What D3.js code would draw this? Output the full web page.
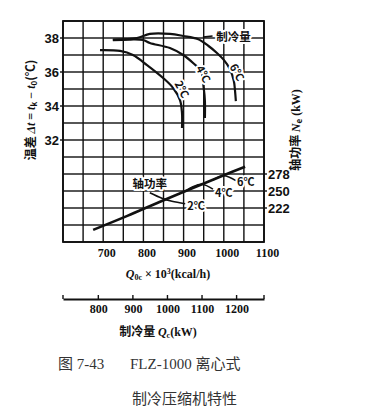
<!DOCTYPE html>
<html>
<head>
<meta charset="utf-8">
<script src="https://cdn.jsdelivr.net/npm/d3@7/dist/d3.min.js"></script>
<style>
body { margin:0; background:#fff; }
svg text { fill:#111; }
.num { font-family:"Liberation Sans", Arial, sans-serif; font-weight:bold; font-size:13px; }
.snum { font-family:"Liberation Serif", serif; font-weight:bold; font-size:12px; }
.lab { font-family:"Noto Sans CJK SC", sans-serif; font-weight:bold; font-size:11px; }
.halo { paint-order:stroke; stroke:#fff; stroke-width:4px; stroke-linejoin:round; }
</style>
</head>
<body>
<div id="chart"></div>
<script>
// FLZ-1000 centrifugal compressor characteristics
// cooling capacity curves: Q0c (x10^3 kcal/h) vs temperature difference (C)
var cap2Q = [692, 742, 774, 809, 849, 874, 891, 896, 896];
var cap2T = [37.29, 37.24, 37.0, 36.41, 35.65, 35.06, 34.35, 33.59, 32.71];
var cap4Q = [724, 767, 799, 816, 866, 899, 925, 943, 950, 953, 953];
var cap4T = [37.88, 37.91, 37.88, 37.71, 37.41, 37.0, 36.5, 36.06, 35.06, 34.29, 33.29];
var cap6Q = [724, 784, 816, 866, 899, 935, 962, 983, 1000, 1015, 1025, 1028, 1030];
var cap6T = [37.91, 38.0, 38.24, 38.24, 38.12, 37.94, 37.53, 37.12, 36.71, 36.18, 35.47, 34.88, 34.29];
var capLabels = ["2℃", "4℃", "6℃"];

// shaft power: Q0c vs Ne (kW)
var powQ = [675, 760, 840, 920, 1000, 1053];
var powN = [186, 209, 232, 254, 276, 290];
var hook2Q = [816, 846, 871, 904];
var hook2N = [247, 238, 233, 229];
var hook4Q = [904, 923, 946, 973];
var hook4N = [249, 257, 261, 253];
var hook6Q = [973, 1000, 1030];
var hook6N = [268, 275, 267];

var qTicks = [700, 800, 900, 1000, 1100];
var tTicks = [32, 34, 36, 38];
var nTicks = [222, 250, 278];
var kwTicks = [800, 900, 1000, 1100, 1200];

var width = 389, height = 413;
var svg = d3.select("#chart").append("svg").attr("width", width).attr("height", height);

var x = d3.scaleLinear().domain([600, 1100]).range([63, 264]);
var yT = d3.scaleLinear().domain([26, 39]).range([242, 21]);
// Ne = 278 + (t - 30) * 28
var yN = d3.scaleLinear().domain([166, 530]).range([242, 21]);
var xkw = d3.scaleLinear().domain([600 * 1.163, 1100 * 1.163]).range([63, 264]);

// grid as thin filled rects
var gridQ = d3.range(600, 1101, 50), gridT = d3.range(26, 40, 1);
var lw = 1.4;
var grid = svg.append("g").attr("fill", "#111");
grid.selectAll("rect.v").data(gridQ).enter().append("rect").attr("class", "v")
	.attr("x", function(d) { return x(d) - lw / 2; }).attr("y", yT(39))
	.attr("width", lw).attr("height", yT(26) - yT(39));
grid.selectAll("rect.h").data(gridT).enter().append("rect").attr("class", "h")
	.attr("x", x(600)).attr("y", function(d) { return yT(d) - lw / 2; })
	.attr("width", x(1100) - x(600)).attr("height", lw);
svg.append("rect").attr("x", x(600)).attr("y", yT(39))
	.attr("width", x(1100) - x(600)).attr("height", yT(26) - yT(39))
	.attr("fill", "none").attr("stroke", "#111").attr("stroke-width", 1.8);

// tick marks, also as small rects
var ticks = svg.append("g").attr("fill", "#111");
ticks.selectAll("rect.l").data(tTicks).enter().append("rect").attr("class", "l")
	.attr("x", x(600) - 3).attr("y", function(d) { return yT(d) - lw / 2; }).attr("width", 3).attr("height", lw);
ticks.selectAll("rect.r").data(nTicks).enter().append("rect").attr("class", "r")
	.attr("x", x(1100)).attr("y", function(d) { return yN(d) - lw / 2; }).attr("width", 3).attr("height", lw);
ticks.selectAll("rect.k").data(kwTicks.concat(xkw.domain())).enter().append("rect").attr("class", "k")
	.attr("x", function(d) { return xkw(d) - lw / 2; }).attr("y", 295).attr("width", lw).attr("height", 4);

// axes (labels only)
var fmt = d3.format("d");
svg.append("g").attr("transform", "translate(" + x(600) + ",0)").attr("class", "num")
	.call(d3.axisLeft(yT).tickValues(tTicks).tickSize(0).tickPadding(4));
svg.append("g").attr("transform", "translate(" + x(1100) + ",0)").attr("class", "num")
	.call(d3.axisRight(yN).tickValues(nTicks).tickSize(0).tickPadding(4));
svg.append("g").attr("transform", "translate(0," + yT(26) + ")").attr("class", "snum qax")
	.call(d3.axisBottom(x).tickValues(qTicks).tickFormat(fmt).tickSize(0).tickPadding(6));
var kw = svg.append("g").attr("transform", "translate(0,299)").attr("class", "snum")
	.call(d3.axisBottom(xkw).tickValues(kwTicks).tickFormat(fmt).tickSize(0).tickPadding(5));
svg.selectAll("g.num, g.snum").attr("font-family", null).attr("font-size", null);
svg.selectAll("g.num .domain, g.snum .domain").attr("stroke", "none");
kw.select(".domain").attr("stroke", "#111").attr("stroke-width", 1.8);
svg.selectAll("g.qax .tick text").attr("dx", 3);

// cooling capacity curves
var lineT = d3.line().curve(d3.curveCatmullRom.alpha(0.5))
	.x(function(d) { return x(d[0]); }).y(function(d) { return yT(d[1]); });
var lineN = d3.line().curve(d3.curveCatmullRom.alpha(0.5))
	.x(function(d) { return x(d[0]); }).y(function(d) { return yN(d[1]); });
function pts(a, b) { return a.map(function(v, i) { return [v, b[i]]; }); }

[[cap2Q, cap2T], [cap4Q, cap4T], [cap6Q, cap6T]].forEach(function(c) {
	svg.append("path").attr("d", lineT(pts(c[0], c[1])))
		.attr("fill", "none").attr("stroke", "#111").attr("stroke-width", 2.2);
});
svg.append("path").attr("d", lineN(pts(powQ, powN)))
	.attr("fill", "none").attr("stroke", "#111").attr("stroke-width", 2.6);
[[hook2Q, hook2N], [hook4Q, hook4N], [hook6Q, hook6N]].forEach(function(c) {
	svg.append("path").attr("d", lineN(pts(c[0], c[1])))
		.attr("fill", "none").attr("stroke", "#111").attr("stroke-width", 1.6);
});

// labels on capacity curves (rotated along the curve)
var capLabPos = [[898, 35.0], [951, 35.9], [1035, 36.0]];
capLabPos.forEach(function(p, i) {
	svg.append("text").attr("class", "lab halo")
		.attr("transform", "translate(" + x(p[0]) + "," + yT(p[1]) + ") rotate(62)")
		.attr("text-anchor", "middle").attr("dominant-baseline", "central")
		.text(capLabels[i]);
});
var powLabPos = [[909, 28.18], [978, 28.94], [1033, 29.59]];
powLabPos.forEach(function(p, i) {
	svg.append("text").attr("class", "lab halo")
		.attr("x", x(p[0])).attr("y", yT(p[1]))
		.attr("dominant-baseline", "central")
		.text(capLabels[i]);
});

var lp = d3.path();
lp.moveTo(x(948), yT(38.05)); lp.lineTo(x(972), yT(38.12));
svg.append("path").attr("d", lp.toString()).attr("stroke", "#111").attr("stroke-width", 1.6);
svg.append("text").attr("class", "lab halo").style("font-size", "11.5px")
	.attr("x", x(1024)).attr("y", yT(38.12)).attr("text-anchor", "middle").attr("dominant-baseline", "central")
	.text("制冷量");
svg.append("text").attr("class", "lab halo").style("font-size", "11.5px")
	.attr("x", x(816)).attr("y", yT(29.5)).attr("text-anchor", "middle").attr("dominant-baseline", "central")
	.text("轴功率");

// axis titles
var lt = svg.append("text").attr("class", "lab").style("font-size", "12px")
	.attr("transform", "translate(35,110) rotate(-90)").attr("text-anchor", "middle");
lt.append("tspan").text("温差 ");
lt.append("tspan").style("font-family", "Liberation Serif").style("font-style", "italic").text("Δt");
lt.append("tspan").style("font-family", "Liberation Serif").text(" = ");
lt.append("tspan").style("font-family", "Liberation Serif").style("font-style", "italic").text("t");
lt.append("tspan").style("font-size", "8px").attr("dy", 2).text("k");
lt.append("tspan").style("font-family", "Liberation Serif").attr("dy", -2).text(" − ");
lt.append("tspan").style("font-family", "Liberation Serif").style("font-style", "italic").text("t");
lt.append("tspan").style("font-size", "8px").attr("dy", 2).text("0");
lt.append("tspan").attr("dy", -2).text("(℃)");

var rt = svg.append("text").attr("class", "lab").style("font-size", "12px")
	.attr("transform", "translate(300,130) rotate(-90)").attr("text-anchor", "middle");
rt.append("tspan").text("轴功率 ");
rt.append("tspan").style("font-family", "Liberation Serif").style("font-style", "italic").text("N");
rt.append("tspan").style("font-size", "8px").attr("dy", 2).text("e");
rt.append("tspan").attr("dy", -2).style("font-family", "Liberation Serif").text(" (kW)");

var xt = svg.append("text").attr("class", "snum").style("font-size", "12px")
	.attr("x", 168).attr("y", 278).attr("text-anchor", "middle");
xt.append("tspan").style("font-style", "italic").text("Q");
xt.append("tspan").style("font-size", "8px").attr("dy", 2).text("0c");
xt.append("tspan").attr("dy", -2).text(" × 10");
xt.append("tspan").style("font-size", "8px").attr("dy", -4).text("3");
xt.append("tspan").attr("dy", 4).text("(kcal/h)");

var kt = svg.append("text").attr("class", "lab").style("font-size", "12px")
	.attr("x", 158).attr("y", 336).attr("text-anchor", "middle");
kt.append("tspan").text("制冷量 ");
kt.append("tspan").style("font-family", "Liberation Serif").style("font-style", "italic").text("Q");
kt.append("tspan").style("font-family", "Liberation Serif").style("font-size", "8px").attr("dy", 2).text("c");
kt.append("tspan").style("font-family", "Liberation Serif").attr("dy", -2).text("(kW)");

// caption
var cap = svg.append("g").style("font-family", "'Liberation Serif', 'Noto Sans CJK SC', serif")
	.style("font-size", "15px");
cap.append("text").attr("x", 58).attr("y", 369).style("fill", "#333").text("图 7-43");
cap.append("text").attr("x", 130).attr("y", 369).style("fill", "#333").text("FLZ-1000 离心式");
cap.append("text").attr("x", 132).attr("y", 404).style("fill", "#333").text("制冷压缩机特性");
</script>
</body>
</html>
